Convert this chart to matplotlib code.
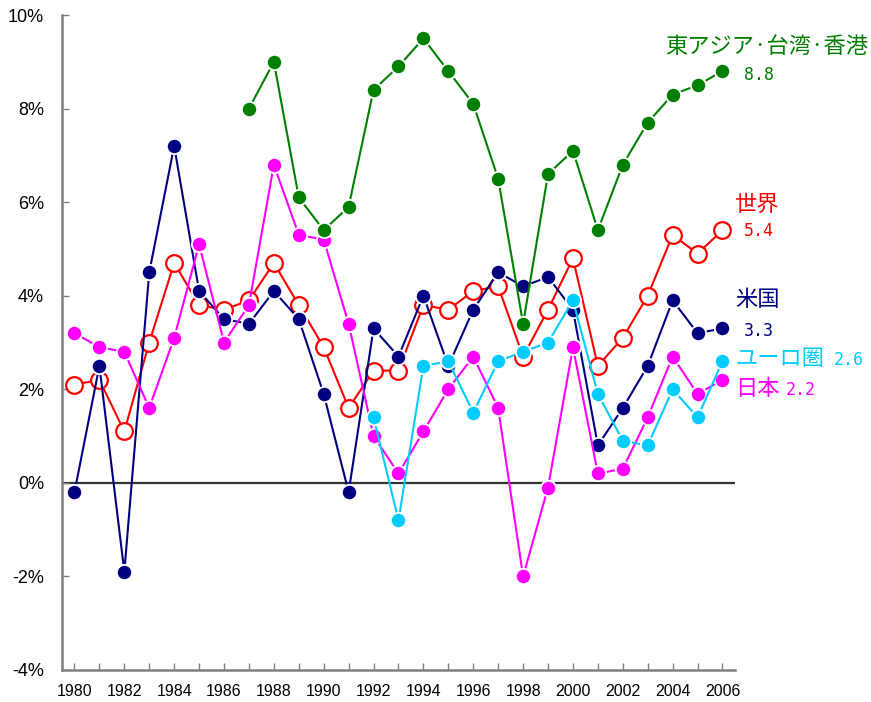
import matplotlib
matplotlib.use("Agg")
import matplotlib.pyplot as plt
import numpy as np

years = list(range(1980, 2007))

world = [2.1, 2.2, 1.1, 3.0, 4.7, 3.8, 3.7, 3.9, 4.7, 3.8, 2.9, 1.6, 2.4, 2.4,
         3.8, 3.7, 4.1, 4.2, 2.7, 3.7, 4.8, 2.5, 3.1, 4.0, 5.3, 4.9, 5.4]
usa = [-0.2, 2.5, -1.9, 4.5, 7.2, 4.1, 3.5, 3.4, 4.1, 3.5, 1.9, -0.2, 3.3, 2.7,
       4.0, 2.5, 3.7, 4.5, 4.2, 4.4, 3.7, 0.8, 1.6, 2.5, 3.9, 3.2, 3.3]
japan = [3.2, 2.9, 2.8, 1.6, 3.1, 5.1, 3.0, 3.8, 6.8, 5.3, 5.2, 3.4, 1.0, 0.2,
         1.1, 2.0, 2.7, 1.6, -2.0, -0.1, 2.9, 0.2, 0.3, 1.4, 2.7, 1.9, 2.2]
euro_years = list(range(1992, 2007))
euro = [1.4, -0.8, 2.5, 2.6, 1.5, 2.6, 2.8, 3.0, 3.9, 1.9, 0.9, 0.8, 2.0, 1.4, 2.6]
easia_years = list(range(1987, 2007))
easia = [8.0, 9.0, 6.1, 5.4, 5.9, 8.4, 8.9, 9.5, 8.8, 8.1, 6.5, 3.4, 6.6, 7.1,
         5.4, 6.8, 7.7, 8.3, 8.5, 8.8]

yticks = [-4, -2, 0, 2, 4, 6, 8, 10]
xticks = list(range(1980, 2007, 2))

C_WORLD = "#FF0000"
C_US = "#000080"
C_JP = "#FF00FF"
C_EU = "#00CCFF"
C_EA = "#008000"

fig = plt.figure(figsize=(8.71, 7.02), dpi=100)
ax = fig.add_axes([0.0712, 0.0456, 0.7726, 0.933])

ax.axhline(0, color="#333333", lw=1.6, zorder=1)

lw = 1.5
ms = 11
ax.plot(years, world, color=C_WORLD, lw=lw, marker="o", ms=ms + 1,
        mfc="white", mec=C_WORLD, mew=1.6, zorder=2)
ax.plot(years, usa, color=C_US, lw=lw, marker="o", ms=ms,
        mfc=C_US, mec="white", mew=1.3, zorder=3)
ax.plot(years, japan, color=C_JP, lw=lw, marker="o", ms=ms,
        mfc=C_JP, mec="white", mew=1.3, zorder=4)
ax.plot(euro_years, euro, color=C_EU, lw=lw, marker="o", ms=ms,
        mfc=C_EU, mec="white", mew=1.3, zorder=5)
ax.plot(easia_years, easia, color=C_EA, lw=lw, marker="o", ms=ms,
        mfc=C_EA, mec="white", mew=1.3, zorder=6)

ax.set_xlim(1979.5, 2006.5)
ax.set_ylim(-4, 10)
ax.set_yticks(yticks)
ax.set_yticklabels([f"{v}%" for v in yticks], fontsize=13, family="Liberation Sans")
ax.set_xticks(range(1980, 2007))
ax.set_xticklabels([str(y) if y % 2 == 0 else "" for y in range(1980, 2007)],
                   fontsize=11.5, family="Liberation Sans")
ax.tick_params(axis="both", direction="in", length=5, color="#808080", width=1)
ax.tick_params(axis="x", pad=10)
ax.tick_params(axis="y", pad=13)
for s in ["top", "right"]:
    ax.spines[s].set_visible(False)
for s in ["left", "bottom"]:
    ax.spines[s].set_color("#808080")
    ax.spines[s].set_linewidth(1.8)

cjk = ["Noto Sans CJK JP", "DejaVu Sans"]
mono = "DejaVu Sans Mono"
kw = dict(clip_on=False, va="center", ha="left")
fs_l = 16
fs_n = 12
ax.text(2003.7, 9.33, "東アジア·台湾·香港", color=C_EA, fontsize=fs_l, family=cjk, **kw)
ax.text(2006.87, 8.72, "8.8", color=C_EA, fontsize=fs_n, family=mono, **kw)
ax.text(2006.5, 5.96, "世界", color=C_WORLD, fontsize=fs_l, family=cjk, **kw)
ax.text(2006.87, 5.38, "5.4", color=C_WORLD, fontsize=fs_n, family=mono, **kw)
ax.text(2006.5, 3.92, "米国", color=C_US, fontsize=fs_l, family=cjk, **kw)
ax.text(2006.87, 3.25, "3.3", color=C_US, fontsize=fs_n, family=mono, **kw)
ax.text(2006.5, 2.65, "ユーロ圏", color=C_EU, fontsize=fs_l, family=cjk, **kw)
ax.text(2010.45, 2.62, "2.6", color=C_EU, fontsize=fs_n, family=mono, **kw)
ax.text(2006.5, 2.01, "日本", color=C_JP, fontsize=fs_l, family=cjk, **kw)
ax.text(2008.55, 1.98, "2.2", color=C_JP, fontsize=fs_n, family=mono, **kw)

fig.savefig("out.png", dpi=100)
